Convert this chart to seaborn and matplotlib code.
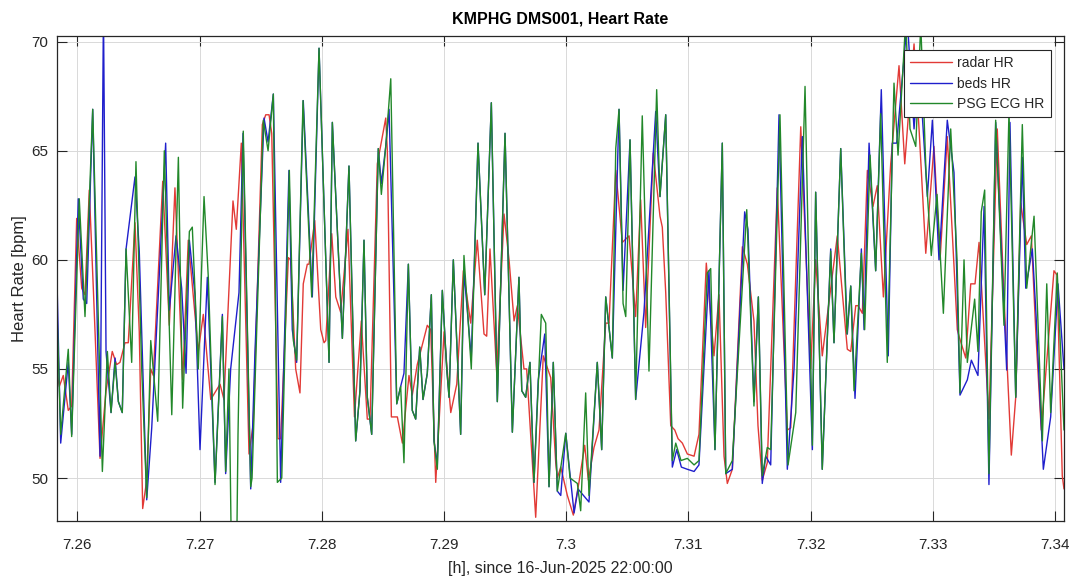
import numpy as np
import pandas as pd
import matplotlib
matplotlib.use("Agg")
import matplotlib.pyplot as plt
import seaborn as sns

# ---------------- data (time in hours since 16-Jun-2025 22:00:00, HR in bpm) ----------------
radar_t = [7.25826, 7.25853, 7.25885, 7.25926, 7.25954, 7.25995, 7.26036, 7.26063, 7.26098, 7.26131,
           7.26186, 7.26235, 7.26286, 7.26322, 7.26349, 7.26390, 7.26417, 7.26472, 7.26507, 7.26535,
           7.26568, 7.26601, 7.26622, 7.26699, 7.26753, 7.26799, 7.26862, 7.26908, 7.26990, 7.27031,
           7.27092, 7.27168, 7.27200, 7.27274, 7.27301, 7.27342, 7.27405, 7.27440, 7.27514, 7.27542,
           7.27569, 7.27591, 7.27642, 7.27664, 7.27727, 7.27746, 7.27787, 7.27822, 7.27849, 7.27882,
           7.27896, 7.27943, 7.27992, 7.28019, 7.28033, 7.28082, 7.28115, 7.28155, 7.28215, 7.28268,
           7.28324, 7.28373, 7.28395, 7.28455, 7.28524, 7.28537, 7.28570, 7.28619, 7.28660, 7.28714,
           7.28741, 7.28782, 7.28864, 7.28892, 7.28933, 7.29001, 7.29056, 7.29105, 7.29159, 7.29219,
           7.29273, 7.29328, 7.29350, 7.29377, 7.29432, 7.29492, 7.29533, 7.29574, 7.29601, 7.29655,
           7.29677, 7.29751, 7.29813, 7.29874, 7.29915, 7.29928, 7.29956, 7.30010, 7.30059, 7.30105,
           7.30152, 7.30182, 7.30228, 7.30269, 7.30324, 7.30351, 7.30406, 7.30460, 7.30515, 7.30569,
           7.30610, 7.30651, 7.30713, 7.30768, 7.30787, 7.30815, 7.30856, 7.30889, 7.30916, 7.30951,
           7.30992, 7.31047, 7.31087, 7.31147, 7.31210, 7.31251, 7.31292, 7.31319, 7.31360, 7.31442,
           7.31483, 7.31537, 7.31570, 7.31605, 7.31646, 7.31728, 7.31810, 7.31838, 7.31920, 7.32001,
           7.32042, 7.32096, 7.32219, 7.32301, 7.32329, 7.32370, 7.32389, 7.32424, 7.32465, 7.32511,
           7.32546, 7.32596, 7.32656, 7.32724, 7.32771, 7.32806, 7.32847, 7.32888, 7.32943, 7.33010,
           7.33060, 7.33119, 7.33201, 7.33215, 7.33270, 7.33311, 7.33346, 7.33379, 7.33460, 7.33528,
           7.33583, 7.33643, 7.33679, 7.33720, 7.33769, 7.33807, 7.33845, 7.33888, 7.33992, 7.34017,
           7.34060, 7.34074]
radar_hr = [55.0, 54.2, 54.7, 53.1, 53.3, 61.9, 58.7, 58.4, 63.2, 58.7,
            50.9, 54.0, 55.8, 55.2, 55.3, 56.2, 56.2, 61.7, 56.7, 48.6,
            49.9, 55.0, 54.7, 63.6, 57.0, 63.3, 54.5, 60.9, 55.8, 57.5,
            53.6, 54.3, 53.6, 62.7, 61.4, 65.35, 51.1, 52.5, 66.2, 66.65,
            66.65, 65.8, 51.8, 51.8, 60.1, 60.0, 55.0, 53.9, 58.9, 59.8,
            59.8, 61.8, 56.8, 56.2, 56.3, 61.2, 58.3, 57.6, 61.4, 52.8,
            57.2, 52.7, 52.7, 64.4, 66.5, 65.0, 52.8, 52.8, 51.6, 54.7,
            53.8, 55.2, 57.0, 56.8, 49.8, 56.7, 53.0, 54.3, 59.5, 57.1,
            60.9, 56.6, 56.5, 60.5, 54.8, 62.1, 60.0, 57.2, 57.9, 55.0,
            55.0, 48.2, 55.6, 54.6, 50.7, 50.0, 50.5, 49.2, 48.3, 49.8,
            51.5, 49.9, 51.4, 52.2, 57.1, 57.1, 64.1, 60.8, 61.1, 57.4,
            62.75, 56.9, 64.9, 62.0, 61.5, 58.5, 52.4, 52.2, 51.8, 51.6,
            51.1, 51.0, 52.0, 59.85, 55.6, 58.4, 51.0, 49.75, 50.4, 60.6,
            59.8, 57.2, 52.4, 49.9, 50.7, 63.3, 52.2, 52.3, 66.1, 55.0,
            60.0, 55.6, 61.1, 55.9, 55.8, 57.9, 57.9, 57.55, 64.1, 62.45,
            63.4, 58.3, 64.4, 68.9, 64.4, 67.0, 69.9, 66.0, 60.3, 65.2,
            60.0, 65.65, 56.8, 56.5, 55.5, 58.9, 58.9, 60.8, 52.7, 66.0,
            58.3, 51.05, 53.7, 62.6, 60.7, 61.1, 56.5, 52.2, 59.5, 59.3,
            50.1, 49.5]

beds_t = [7.25826, 7.25864, 7.25926, 7.25954, 7.26008, 7.26049, 7.26077, 7.26126, 7.26186, 7.26214,
          7.26235, 7.26276, 7.26309, 7.26336, 7.26368, 7.26399, 7.26472, 7.26507, 7.26568, 7.26609,
          7.26663, 7.26723, 7.26753, 7.26808, 7.26854, 7.26890, 7.26917, 7.26963, 7.27004, 7.27064,
          7.27127, 7.27187, 7.27214, 7.27255, 7.27323, 7.27356, 7.27419, 7.27454, 7.27528, 7.27561,
          7.27604, 7.27664, 7.27732, 7.27759, 7.27795, 7.27849, 7.27923, 7.27978, 7.28060, 7.28087,
          7.28169, 7.28223, 7.28278, 7.28313, 7.28346, 7.28373, 7.28409, 7.28463, 7.28488, 7.28524,
          7.28551, 7.28614, 7.28646, 7.28673, 7.28709, 7.28741, 7.28769, 7.28802, 7.28829, 7.28864,
          7.28897, 7.28919, 7.28946, 7.28987, 7.29023, 7.29042, 7.29077, 7.29137, 7.29164, 7.29224,
          7.29279, 7.29334, 7.29388, 7.29437, 7.29500, 7.29560, 7.29614, 7.29637, 7.29669, 7.29704,
          7.29737, 7.29772, 7.29825, 7.29860, 7.29895, 7.29928, 7.29956, 7.29997, 7.30065, 7.30097,
          7.30187, 7.30255, 7.30291, 7.30324, 7.30378, 7.30433, 7.30466, 7.30523, 7.30569, 7.30637,
          7.30733, 7.30768, 7.30815, 7.30869, 7.30905, 7.30943, 7.30992, 7.31047, 7.31087, 7.31169,
          7.31218, 7.31278, 7.31306, 7.31360, 7.31461, 7.31488, 7.31537, 7.31573, 7.31605, 7.31633,
          7.31674, 7.31742, 7.31810, 7.31865, 7.31933, 7.32015, 7.32042, 7.32096, 7.32165, 7.32192,
          7.32247, 7.32301, 7.32329, 7.32364, 7.32416, 7.32438, 7.32479, 7.32533, 7.32579, 7.32636,
          7.32669, 7.32705, 7.32792, 7.32847, 7.32888, 7.32956, 7.32997, 7.33051, 7.33068, 7.33119,
          7.33174, 7.33223, 7.33283, 7.33316, 7.33370, 7.33420, 7.33460, 7.33515, 7.33605, 7.33632,
          7.33679, 7.33733, 7.33761, 7.33815, 7.33845, 7.33905, 7.33965, 7.34025, 7.34074]
beds_hr = [61.0, 51.6, 55.3, 52.0, 62.8, 58.2, 58.0, 66.9, 51.0, 71.5,
           55.8, 53.0, 55.5, 53.5, 53.0, 60.5, 63.8, 60.4, 49.0, 52.3,
           58.4, 65.35, 57.7, 61.1, 58.7, 54.8, 60.9, 58.4, 51.3, 59.2,
           49.8, 57.5, 50.2, 55.0, 58.5, 65.8, 49.5, 55.8, 66.5, 65.4,
           67.6, 49.8, 64.1, 56.8, 55.3, 67.3, 58.3, 69.7, 55.3, 66.3,
           56.4, 64.3, 51.7, 54.0, 60.9, 53.7, 52.0, 65.1, 63.5, 65.2,
           66.9, 53.4, 54.2, 54.8, 59.8, 53.1, 52.7, 56.0, 53.6, 54.8,
           58.4, 51.7, 50.6, 58.6, 55.0, 53.7, 60.0, 52.0, 59.5, 55.5,
           65.35, 58.4, 67.2, 53.5, 65.8, 52.1, 59.2, 54.0, 53.7, 55.3,
           49.8, 54.5, 56.6, 49.6, 55.3, 49.4, 49.2, 52.05, 48.4, 49.5,
           48.9, 55.3, 51.3, 58.3, 55.5, 66.9, 58.6, 65.5, 53.6, 57.6,
           66.8, 62.9, 66.65, 50.5, 51.3, 50.5, 50.4, 50.3, 50.6, 59.5,
           51.3, 65.35, 50.2, 50.4, 62.2, 61.4, 53.5, 58.3, 49.75, 51.0,
           50.6, 66.65, 50.4, 55.0, 65.65, 51.3, 63.1, 50.4, 60.5, 56.2,
           65.1, 56.6, 58.8, 53.65, 60.5, 56.8, 65.35, 59.5, 67.8, 55.6,
           65.35, 65.35, 71.0, 66.0, 69.0, 62.9, 66.4, 60.0, 61.5, 66.4,
           64.0, 53.8, 54.5, 55.4, 54.7, 62.45, 49.7, 66.3, 54.95, 66.3,
           53.7, 64.7, 58.7, 60.5, 57.5, 50.4, 52.8, 58.9, 55.0]

psg_t = [7.25826, 7.25864, 7.25926, 7.25954, 7.26016, 7.26063, 7.26126, 7.26205, 7.26246, 7.26276,
         7.26309, 7.26336, 7.26368, 7.26399, 7.26445, 7.26480, 7.26527, 7.26568, 7.26601, 7.26658,
         7.26712, 7.26773, 7.26827, 7.26862, 7.26917, 7.26941, 7.26990, 7.27037, 7.27072, 7.27127,
         7.27187, 7.27214, 7.27241, 7.27262, 7.27303, 7.27315, 7.27358, 7.27419, 7.27430, 7.27522,
         7.27561, 7.27604, 7.27637, 7.27673, 7.27735, 7.27768, 7.27795, 7.27847, 7.27918, 7.27978,
         7.28060, 7.28087, 7.28169, 7.28223, 7.28278, 7.28313, 7.28346, 7.28373, 7.28409, 7.28463,
         7.28488, 7.28524, 7.28565, 7.28614, 7.28646, 7.28673, 7.28709, 7.28741, 7.28769, 7.28802,
         7.28829, 7.28864, 7.28897, 7.28919, 7.28946, 7.28987, 7.29023, 7.29042, 7.29077, 7.29137,
         7.29164, 7.29224, 7.29279, 7.29334, 7.29388, 7.29437, 7.29500, 7.29560, 7.29614, 7.29637,
         7.29669, 7.29704, 7.29737, 7.29797, 7.29833, 7.29860, 7.29895, 7.29928, 7.29997, 7.30032,
         7.30092, 7.30119, 7.30160, 7.30187, 7.30255, 7.30291, 7.30324, 7.30378, 7.30406, 7.30433,
         7.30466, 7.30488, 7.30523, 7.30569, 7.30623, 7.30678, 7.30741, 7.30768, 7.30815, 7.30869,
         7.30897, 7.30940, 7.30992, 7.31047, 7.31087, 7.31155, 7.31183, 7.31218, 7.31278, 7.31306,
         7.31360, 7.31478, 7.31537, 7.31573, 7.31605, 7.31646, 7.31674, 7.31750, 7.31816, 7.31879,
         7.31955, 7.32015, 7.32042, 7.32096, 7.32165, 7.32192, 7.32247, 7.32298, 7.32329, 7.32356,
         7.32416, 7.32443, 7.32487, 7.32533, 7.32574, 7.32628, 7.32683, 7.32716, 7.32779, 7.32814,
         7.32861, 7.32902, 7.32945, 7.32988, 7.33035, 7.33087, 7.33147, 7.33199, 7.33223, 7.33256,
         7.33283, 7.33343, 7.33370, 7.33397, 7.33425, 7.33460, 7.33515, 7.33583, 7.33624, 7.33679,
         7.33733, 7.33769, 7.33829, 7.33897, 7.33933, 7.33965, 7.34019, 7.34074]
psg_hr = [59.1, 52.0, 55.9, 51.9, 62.8, 57.4, 66.9, 50.3, 55.8, 53.0,
          55.3, 53.5, 53.0, 60.5, 55.3, 64.5, 55.0, 49.1, 56.3, 52.6,
          65.0, 52.9, 64.7, 53.2, 61.3, 61.5, 55.0, 62.9, 59.2, 49.7,
          57.4, 50.3, 55.0, 46.0, 46.0, 52.0, 65.9, 49.6, 50.0, 66.4,
          65.0, 67.6, 49.8, 50.0, 64.1, 56.3, 55.4, 67.3, 58.3, 69.7,
          55.3, 66.3, 56.4, 64.3, 51.7, 54.0, 60.9, 53.7, 52.0, 65.1,
          63.0, 65.2, 68.3, 53.4, 54.2, 50.7, 59.8, 53.1, 52.7, 56.0,
          53.6, 54.8, 58.4, 51.7, 50.4, 58.6, 55.0, 53.7, 60.0, 52.0,
          60.2, 55.0, 65.35, 58.4, 67.2, 53.5, 65.8, 52.1, 59.2, 54.0,
          53.7, 55.3, 49.8, 57.5, 57.1, 49.6, 55.3, 49.4, 52.05, 50.0,
          49.75, 48.5, 53.9, 49.2, 55.3, 51.3, 58.3, 55.5, 65.1, 66.9,
          58.0, 57.4, 65.5, 53.6, 66.6, 54.9, 67.8, 62.9, 66.65, 50.8,
          51.6, 50.8, 50.9, 50.6, 50.8, 59.4, 59.6, 51.3, 65.35, 50.2,
          50.8, 62.3, 53.3, 58.3, 50.1, 51.4, 51.3, 66.65, 50.6, 53.0,
          67.95, 51.5, 63.1, 50.4, 60.4, 56.2, 65.1, 56.6, 58.8, 54.0,
          60.3, 56.8, 64.8, 59.5, 66.7, 55.3, 68.1, 64.8, 71.0, 66.0,
          65.2, 70.8, 64.0, 60.2, 63.0, 57.55, 66.0, 60.0, 53.9, 60.0,
          55.3, 58.2, 55.8, 62.2, 63.2, 50.2, 66.4, 57.0, 66.8, 53.7,
          66.2, 58.7, 62.0, 51.7, 58.9, 53.0, 59.4, 52.2]

series_names = ["radar HR", "beds HR", "PSG ECG HR"]
x_ticks = [7.26, 7.27, 7.28, 7.29, 7.30, 7.31, 7.32, 7.33, 7.34]
x_tick_labels = ["7.26", "7.27", "7.28", "7.29", "7.3", "7.31", "7.32", "7.33", "7.34"]
y_ticks = [50, 55, 60, 65, 70]

# ---------------- plotting ----------------
sns.set_theme(style="white")
plt.rcParams["font.family"] = ["Liberation Sans", "DejaVu Sans"]

frames = []
for name, t, hr in zip(series_names, [radar_t, beds_t, psg_t], [radar_hr, beds_hr, psg_hr]):
    frames.append(pd.DataFrame({"t": t, "hr": hr, "series": name}))
df = pd.concat(frames, ignore_index=True)

colors = {"radar HR": "#e23a36", "beds HR": "#1f1fcc", "PSG ECG HR": "#22882a"}

fig = plt.figure(figsize=(10.73, 5.79), dpi=100)
ax = fig.add_axes([0.0528, 0.1002, 0.9388, 0.8376])

for name in series_names:
    sub = df[df["series"] == name]
    sns.lineplot(data=sub, x="t", y="hr", ax=ax, color=colors[name], linewidth=1.0,
                 label=name, estimator=None, sort=False)

ax.set_xlim(7.25831, 7.34074)
ax.set_ylim(48.03, 70.26)
ax.set_xticks(x_ticks)
ax.set_xticklabels(x_tick_labels)
ax.set_yticks(y_ticks)
ax.grid(True, color="#d9d9d9", linewidth=0.7)
ax.set_axisbelow(True)

axcol = "#262626"
for sp in ax.spines.values():
    sp.set_color(axcol)
    sp.set_linewidth(0.9)
ax.tick_params(direction="in", length=7, width=0.8, colors=axcol, labelsize=11,
               top=True, right=True, bottom=True, left=True)
ax.tick_params(axis="x", pad=12)
ax.tick_params(axis="y", pad=6)

ax.set_title("KMPHG DMS001, Heart Rate", fontweight="bold", fontsize=11.5, color="black", pad=9)
ax.set_xlabel("[h], since 16-Jun-2025 22:00:00", fontsize=11.5, color=axcol, labelpad=7)
ax.set_ylabel("Heart Rate [bpm]", fontsize=12, color=axcol, labelpad=3)

leg = ax.legend(loc="upper right", bbox_to_anchor=(0.9868, 0.9711), fontsize=10,
                frameon=True, fancybox=False, framealpha=1, edgecolor=axcol,
                borderaxespad=0, handlelength=3.0, labelspacing=0.45, borderpad=0.45,
                handletextpad=0.4)
leg.get_frame().set_linewidth(0.8)

fig.savefig("out.png", dpi=100)
